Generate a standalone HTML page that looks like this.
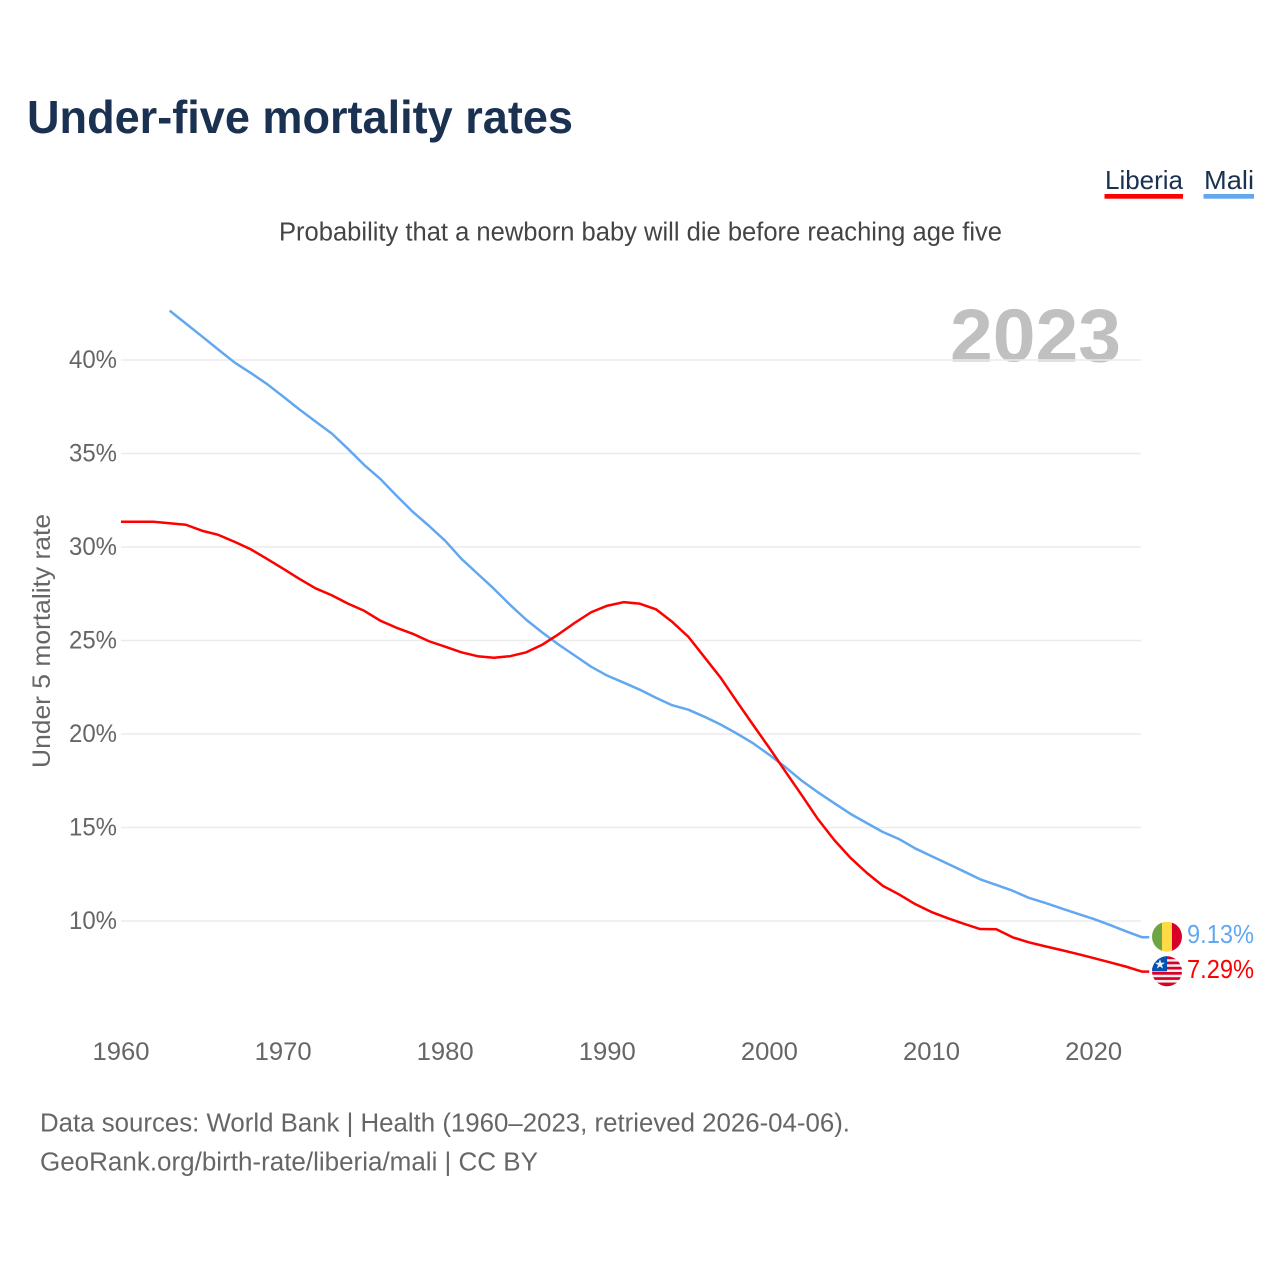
<!DOCTYPE html>
<html lang="en">
<head>
<meta charset="utf-8">
<title>Under-five mortality rates</title>
<style>
html,body{margin:0;padding:0;background:#fff;width:1280px;height:1280px;overflow:hidden}
svg{display:block}
text{font-family:"Liberation Sans",sans-serif}
</style>
</head>
<body>
<svg id="chart" xmlns="http://www.w3.org/2000/svg" width="1280" height="1280" viewBox="0 0 1280 1280">
  <defs>
    <clipPath id="flag-clip-mali"><circle cx="1167" cy="936.7" r="15"/></clipPath>
    <clipPath id="flag-clip-liberia"><circle cx="1167" cy="971.3" r="15"/></clipPath>
  </defs>
  <text x="27" y="133" font-size="46" font-weight="700" fill="#1a3152" textLength="546" lengthAdjust="spacingAndGlyphs">Under-five mortality rates</text>
  <text x="279" y="240.5" font-size="25.5" fill="#444444" textLength="723" lengthAdjust="spacingAndGlyphs">Probability that a newborn baby will die before reaching age five</text>
  <text x="950" y="361.5" font-size="75" font-weight="700" fill="#c0c0c0" textLength="171" lengthAdjust="spacingAndGlyphs">2023</text>

  <g>
    <g>
      <text x="1105" y="189" font-size="26" fill="#1a3152" textLength="78" lengthAdjust="spacingAndGlyphs">Liberia</text>
      <rect x="1104.5" y="194" width="78.5" height="4.7" fill="#ff0000"/>
    </g>
    <g>
      <text x="1204" y="189" font-size="26" fill="#1a3152" textLength="50" lengthAdjust="spacingAndGlyphs">Mali</text>
      <rect x="1203.5" y="194" width="50.5" height="4.7" fill="#62a8f0"/>
    </g>
  </g>

  <g id="grid"></g>
  <g id="yticks"></g>
  <g id="xticks"></g>
  <text transform="translate(50,641) rotate(-90)" text-anchor="middle" font-size="25" fill="#666666" textLength="254" lengthAdjust="spacingAndGlyphs">Under 5 mortality rate</text>
  <g id="series"></g>

  <g clip-path="url(#flag-clip-mali)">
    <rect x="1152" y="921" width="10" height="31" fill="#6da544"/>
    <rect x="1162" y="921" width="10" height="31" fill="#ffda44"/>
    <rect x="1172" y="921" width="10" height="31" fill="#d80027"/>
  </g>
  <g clip-path="url(#flag-clip-liberia)">
    <rect x="1152" y="956" width="30" height="31" fill="#f0f0f0"/>
    <rect x="1152" y="956" width="30" height="3.2" fill="#d80027"/>
    <rect x="1152" y="961.6" width="30" height="2.7" fill="#d80027"/>
    <rect x="1152" y="966.8" width="30" height="2.7" fill="#d80027"/>
    <rect x="1152" y="972" width="30" height="2.7" fill="#d80027"/>
    <rect x="1152" y="977.2" width="30" height="2.7" fill="#d80027"/>
    <rect x="1152" y="982.6" width="30" height="4.4" fill="#d80027"/>
    <rect x="1152" y="956" width="15" height="15.3" fill="#0052b4"/>
    <text x="1160" y="968.6" font-size="13" text-anchor="middle" fill="#f0f0f0">★</text>
  </g>

  <g id="end-labels"></g>

  <text x="40" y="1131.5" font-size="25.5" fill="#666666" textLength="810" lengthAdjust="spacingAndGlyphs">Data sources: World Bank | Health (1960–2023, retrieved 2026-04-06).</text>
  <text x="40" y="1170.5" font-size="25.5" fill="#666666" textLength="498" lengthAdjust="spacingAndGlyphs">GeoRank.org/birth-rate/liberia/mali | CC BY</text>
</svg>
<script>
const years = [1960,1961,1962,1963,1964,1965,1966,1967,1968,1969,1970,1971,1972,1973,1974,1975,1976,1977,1978,1979,1980,1981,1982,1983,1984,1985,1986,1987,1988,1989,1990,1991,1992,1993,1994,1995,1996,1997,1998,1999,2000,2001,2002,2003,2004,2005,2006,2007,2008,2009,2010,2011,2012,2013,2014,2015,2016,2017,2018,2019,2020,2021,2022,2023];
const liberiaValues = [31.35,31.35,31.35,31.27,31.19,30.87,30.65,30.28,29.88,29.37,28.84,28.30,27.79,27.42,26.97,26.59,26.06,25.68,25.36,24.96,24.67,24.37,24.16,24.08,24.16,24.37,24.78,25.34,25.95,26.51,26.86,27.05,26.97,26.67,26.00,25.20,24.10,23.00,21.73,20.48,19.25,17.98,16.72,15.44,14.33,13.38,12.58,11.88,11.42,10.90,10.48,10.15,9.85,9.57,9.56,9.13,8.86,8.65,8.45,8.24,8.02,7.79,7.56,7.29];
const maliValues = [null,null,null,42.64,41.95,41.26,40.56,39.87,39.31,38.72,38.05,37.36,36.71,36.07,35.25,34.39,33.64,32.74,31.88,31.13,30.33,29.37,28.57,27.77,26.91,26.11,25.42,24.78,24.19,23.60,23.12,22.75,22.37,21.94,21.54,21.30,20.92,20.50,20.02,19.50,18.88,18.22,17.50,16.88,16.30,15.73,15.24,14.76,14.38,13.88,13.47,13.06,12.65,12.23,11.93,11.62,11.24,10.97,10.68,10.39,10.11,9.79,9.45,9.13];
const yTickValues = [10,15,20,25,30,35,40];
const xTickValues = [1960,1970,1980,1990,2000,2010,2020];

const NS = 'http://www.w3.org/2000/svg';
const xScale = function (year) { return 121 + (year - 1960) * 16.21; };
const yScale = function (value) { return 360 + (40 - value) * 18.7; };

function make(tag, parentId, attrs, content) {
  const el = document.createElementNS(NS, tag);
  Object.keys(attrs).forEach(function (k) { el.setAttribute(k, attrs[k]); });
  if (content !== undefined) el.textContent = content;
  document.getElementById(parentId).appendChild(el);
  return el;
}

yTickValues.forEach(function (v) {
  const line = make('line', 'grid', {x1: 121, x2: 1141, y1: yScale(v), y2: yScale(v), stroke: '#ebebeb', 'stroke-width': 1.5});
  
  
  const label = make('text', 'yticks', {x: 117, y: yScale(v) + 8, 'text-anchor': 'end', 'font-size': 25, fill: '#666666', textLength: 48, lengthAdjust: 'spacingAndGlyphs'}, v + '%');
  
  
});

xTickValues.forEach(function (yr) {
  const label = make('text', 'xticks', {x: xScale(yr), y: 1060, 'text-anchor': 'middle', 'font-size': 25, fill: '#666666', textLength: 57, lengthAdjust: 'spacingAndGlyphs'}, String(yr));
  
  
});

function linePoints(values) {
  const pts = [];
  values.forEach(function (v, i) {
    if (v !== null) pts.push(xScale(years[i]).toFixed(2) + ',' + yScale(v).toFixed(2));
  });
  return pts;
}

const maliLast = maliValues[maliValues.length - 1];
const liberiaLast = liberiaValues[liberiaValues.length - 1];
const lastX = xScale(years[years.length - 1]);

const maliLine = make('polyline', 'series', {points: linePoints(maliValues).concat([(lastX + 7) + ',' + yScale(maliLast).toFixed(2)]).join(' '), fill: 'none', stroke: '#62a8f0', 'stroke-width': 2.5, 'stroke-linejoin': 'round'});



const liberiaLine = make('polyline', 'series', {points: linePoints(liberiaValues).concat([(lastX + 7) + ',' + yScale(liberiaLast).toFixed(2)]).join(' '), fill: 'none', stroke: '#ff0000', 'stroke-width': 2.5, 'stroke-linejoin': 'round'});



const maliLabel = make('text', 'end-labels', {x: 1187, y: 943, 'font-size': 25.5, fill: '#62a8f0', textLength: 67, lengthAdjust: 'spacingAndGlyphs'}, maliLast.toFixed(2) + '%');



const liberiaLabel = make('text', 'end-labels', {x: 1187, y: 978, 'font-size': 25.5, fill: '#ff0000', textLength: 67, lengthAdjust: 'spacingAndGlyphs'}, liberiaLast.toFixed(2) + '%');


</script>
</body>
</html>
